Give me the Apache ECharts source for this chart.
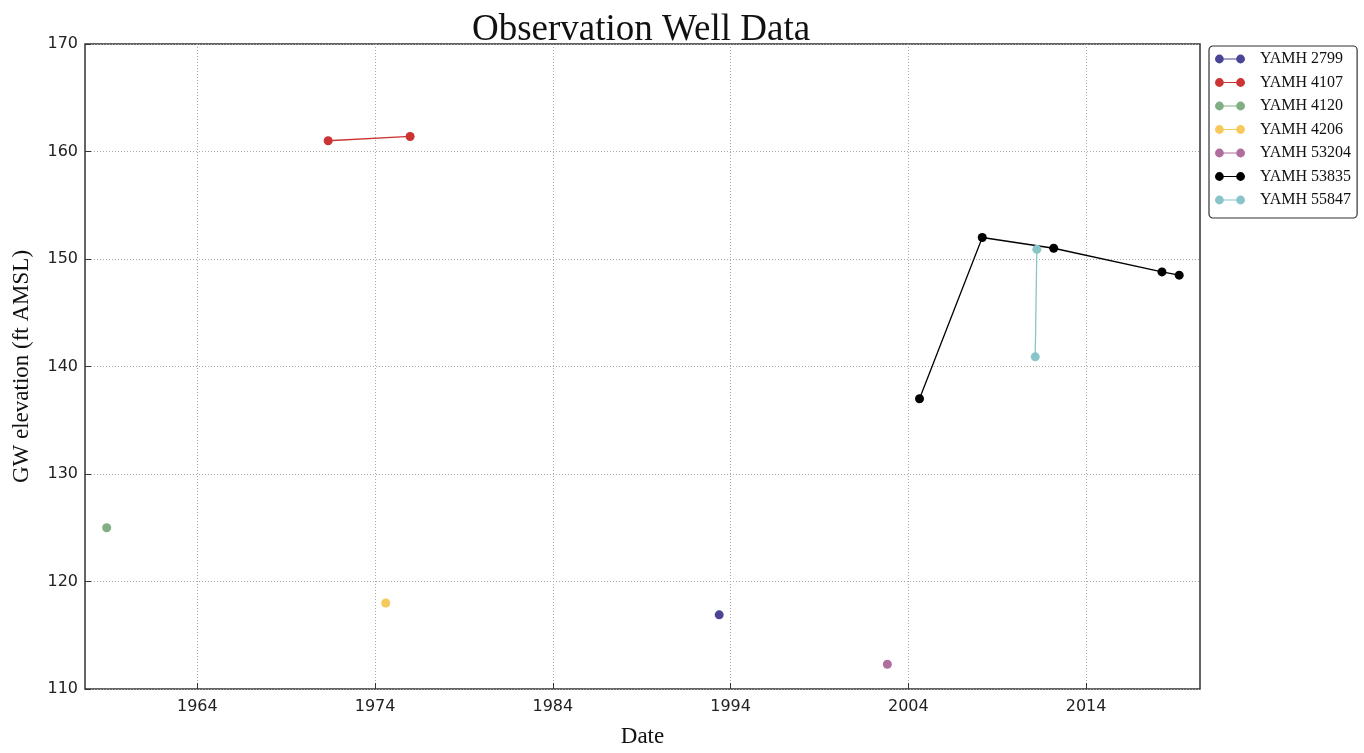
<!DOCTYPE html>
<html>
<head>
<meta charset="utf-8">
<title>Observation Well Data</title>
<script src="https://cdn.jsdelivr.net/npm/echarts@6/dist/echarts.min.js"></script>
<style>
    html,body{margin:0;padding:0;background:#fff;}
    #chart{width:1364px;height:753px;}
</style>
</head>
<body>
<div id="chart"></div>
<script>
// decimal years vs GW elevation (ft AMSL)
var wellNames = ["YAMH 2799","YAMH 4107","YAMH 4120","YAMH 4206","YAMH 53204","YAMH 53835","YAMH 55847"];
var wellColors = ["#4b4596","#cc3333","#82ae86","#f7c95a","#b06e9e","#000000","#88c4c8"];
var yamh2799 = [[1993.36,116.9]];
var yamh4107 = [[1971.36,161.0],[1975.97,161.4]];
var yamh4120 = [[1958.9,125.0]];
var yamh4206 = [[1974.6,118.0]];
var yamh53204 = [[2002.82,112.3]];
var yamh53835 = [[2004.63,137.0],[2008.16,152.0],[2012.18,151.0],[2018.27,148.8],[2019.24,148.5]];
var yamh55847 = [[2011.23,150.9],[2011.14,140.9]];
var xTicks = [1964,1974,1984,1994,2004,2014];
var yTicks = [110,120,130,140,150,160,170];

var wellData = [yamh2799,yamh4107,yamh4120,yamh4206,yamh53204,yamh53835,yamh55847];

var myChart = echarts.init(document.getElementById("chart"));
var dotIcon = "path://M0,5A5,5 0 1 1 10,5A5,5 0 1 1 0,5Z M24,5A5,5 0 1 1 34,5A5,5 0 1 1 24,5Z M5,4.3L29,4.3L29,5.7L5,5.7Z";

var option = {
    backgroundColor: "#fff",
    animation: false,
    title: {
        text: "Observation Well Data",
        left: 467,
        top: 7,
        textStyle: {fontFamily: "Liberation Serif", fontSize: 37, fontWeight: "normal", color: "#111"}
    },
    legend: {
        orient: "vertical",
        left: 1209,
        top: 46,
        padding: [5, 6, 10, 6],
        itemGap: 7.5,
        itemWidth: 30,
        itemHeight: 9,
        borderColor: "#333",
        borderWidth: 1.2,
        borderRadius: 4,
        textStyle: {fontFamily: "Liberation Serif", fontSize: 16, color: "#111", padding: [0, 0, 0, 10], lineHeight: 16},
        data: wellNames.map(function (n) { return {name: n, icon: dotIcon}; })
    },
    grid: {
        left: 85, right: 164, top: 44, bottom: 64,
        containLabel: false,
        outerBoundsMode: "none",
        show: true, borderColor: "#333", borderWidth: 1.5
    },
    xAxis: {
        type: "value",
        min: 1957.68,
        max: 2020.41,
        name: "Date",
        nameLocation: "middle",
        nameGap: 36,
        nameTextStyle: {fontFamily: "Liberation Serif", fontSize: 23, color: "#111"},
        axisLine: {show: false},
        axisTick: {show: true, inside: true, length: 6, customValues: xTicks, lineStyle: {color: "#333"}},
        axisLabel: {
            customValues: xTicks,
            formatter: function (v) { return String(v); },
            fontFamily: "DejaVu Sans", fontSize: 16, color: "#222", margin: 10
        },
        splitLine: {show: true, lineStyle: {color: "#aaa", type: [1, 2], width: 1}}
    },
    yAxis: {
        type: "value",
        min: 110,
        max: 170,
        interval: 10,
        name: "GW elevation (ft AMSL)",
        nameLocation: "middle",
        nameGap: 52,
        nameTextStyle: {fontFamily: "Liberation Serif", fontSize: 23, color: "#111"},
        axisLine: {show: false},
        axisTick: {show: true, inside: true, length: 6, lineStyle: {color: "#333"}},
        axisLabel: {fontFamily: "DejaVu Sans", fontSize: 16, color: "#222", margin: 7},
        splitLine: {show: true, lineStyle: {color: "#aaa", type: [1, 2], width: 1}}
    },
    series: function () {
        var series = [];
        for (var i = 0; i < wellNames.length; i++) {
            series.push({
                name: wellNames[i],
                type: "line",
                data: wellData[i],
                symbol: "circle",
                symbolSize: 9,
                showSymbol: true,
                itemStyle: {color: wellColors[i]},
                lineStyle: {color: wellColors[i], width: 1.3}
            });
        }
        return series;
    }()
};
myChart.setOption(option);
</script>
</body>
</html>
